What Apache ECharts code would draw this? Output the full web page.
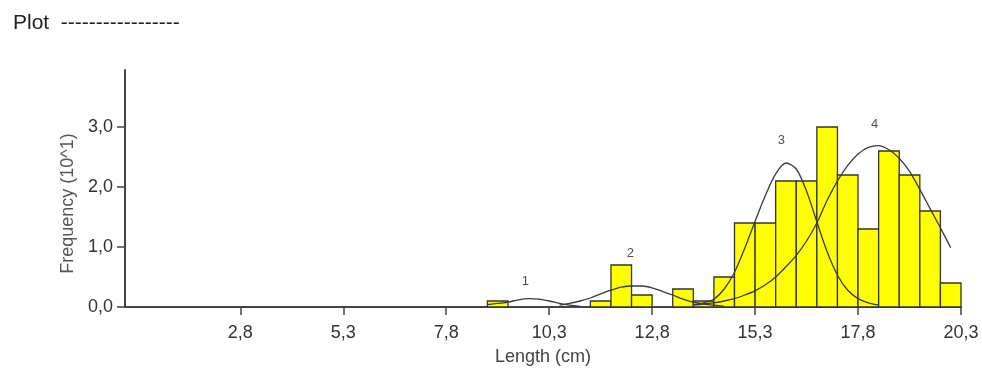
<!DOCTYPE html>
<html>
<head>
<meta charset="utf-8">
<script src="https://cdn.jsdelivr.net/npm/echarts@6/dist/echarts.min.js"></script>
<style>
html,body{margin:0;padding:0;background:#fff;}
#c{width:982px;height:372px;}
</style>
</head>
<body>
<div id="c"></div>
<script>
// Histogram bins (left edge, cm) and frequencies (x10^1)
const binStarts = [8.8, 11.3, 11.8, 12.3, 13.3, 13.8, 14.3, 14.8, 15.3, 15.8, 16.3, 16.8, 17.3, 17.8, 18.3, 18.8, 19.3, 19.8];
const binValues = [0.1, 0.1, 0.7, 0.2, 0.3, 0.1, 0.5, 1.4, 1.4, 2.1, 2.1, 3.0, 2.2, 1.3, 2.6, 2.2, 1.6, 0.4];
const binWidth = 0.5;

// Fitted component curves
const curve1X = [8.8, 9.05, 9.3, 9.55, 9.8, 10.05, 10.3, 10.55, 10.8, 11.05];
const curve1Y = [0.04, 0.06, 0.08, 0.12, 0.14, 0.13, 0.10, 0.06, 0.03, 0.01];
const curve2X = [10.55, 10.8, 11.05, 11.3, 11.55, 11.8, 12.05, 12.3, 12.55, 12.8, 13.05, 13.3, 13.55, 13.8, 14.05, 14.3, 14.55];
const curve2Y = [0.03, 0.06, 0.10, 0.15, 0.22, 0.28, 0.33, 0.35, 0.35, 0.32, 0.26, 0.20, 0.13, 0.08, 0.05, 0.03, 0.01];
const curve3X = [13.8, 14.05, 14.3, 14.55, 14.8, 15.05, 15.3, 15.55, 15.8, 16.05, 16.3, 16.55, 16.8, 17.05, 17.3, 17.55, 17.8, 18.05, 18.3];
const curve3Y = [0.04, 0.07, 0.13, 0.30, 0.58, 0.98, 1.43, 1.86, 2.22, 2.40, 2.30, 1.93, 1.42, 0.92, 0.53, 0.28, 0.14, 0.07, 0.03];
const curve4X = [13.8, 14.05, 14.3, 14.55, 14.8, 15.05, 15.3, 15.55, 15.8, 16.05, 16.3, 16.55, 16.8, 17.05, 17.3, 17.55, 17.8, 18.05, 18.3, 18.55, 18.8, 19.05, 19.3, 19.55, 19.8, 20.05];
const curve4Y = [0.03, 0.05, 0.07, 0.10, 0.14, 0.20, 0.27, 0.37, 0.50, 0.67, 0.86, 1.10, 1.40, 1.78, 2.10, 2.36, 2.55, 2.66, 2.69, 2.62, 2.48, 2.26, 1.96, 1.64, 1.32, 0.99];

// Component labels (text, x, y in data units)
const compLabels = ['1', '2', '3', '4'];
const compLabelX = [9.72, 12.27, 15.94, 18.2];
const compLabelY = [0.42, 0.90, 2.77, 3.05];

// Axis ticks
const xTicks = [2.8, 5.3, 7.8, 10.3, 12.8, 15.3, 17.8, 20.3];
const yTicks = [0, 1, 2, 3];

const zip = (xs, ys) => xs.map((x, i) => [x, ys[i]]);
const fmt = v => v.toFixed(1).replace('.', ',');

const chart = echarts.init(document.getElementById('c'), null, {renderer: 'canvas'});
const lineStyle = {color: '#3a3a3a', width: 1.3};
const curveSeries = [[curve1X, curve1Y], [curve2X, curve2Y], [curve3X, curve3Y], [curve4X, curve4Y]].map(([xs, ys]) => ({
  type: 'line', data: zip(xs, ys), smooth: 0.3, symbol: 'none', lineStyle: lineStyle, z: 5, silent: true
}));
const font = 'Liberation Sans';

chart.setOption({
  animation: false,
  title: {
    text: 'Plot  -----------------', left: 8, top: 8,
    textStyle: {fontFamily: font, fontSize: 21, fontWeight: 'normal', color: '#222'}
  },
  grid: {left: 125, right: 21, top: 70, bottom: 65, containLabel: false},
  xAxis: {
    type: 'value', min: 0, max: 20.3,
    name: 'Length (cm)', nameLocation: 'middle', nameGap: 41,
    nameTextStyle: {fontFamily: font, fontSize: 18, color: '#444'},
    axisLine: {show: true, lineStyle: {color: '#444', width: 2}},
    axisTick: {show: true, customValues: xTicks, length: 8, lineStyle: {color: '#444', width: 1.5}},
    axisLabel: {customValues: xTicks, formatter: fmt, fontFamily: font, fontSize: 18, color: '#333', margin: 17},
    splitLine: {show: false}
  },
  yAxis: {
    type: 'value', min: 0, max: 3.95,
    name: 'Frequency (10^1)', nameLocation: 'middle', nameGap: 47,
    nameTextStyle: {fontFamily: font, fontSize: 18, color: '#555', padding: [0, 30, 0, 0]},
    axisLine: {show: true, lineStyle: {color: '#444', width: 2}},
    axisTick: {show: true, customValues: yTicks, length: 8, lineStyle: {color: '#444', width: 1.5}},
    axisLabel: {customValues: yTicks, formatter: fmt, fontFamily: font, fontSize: 18, color: '#333', margin: 12},
    splitLine: {show: false}
  },
  series: [
    {
      type: 'custom',
      data: binStarts.map((s, i) => [s, binValues[i]]),
      encode: {x: 0, y: 1},
      z: 2,
      renderItem: function (params, api) {
        const x0 = api.value(0);
        const v = api.value(1);
        const p0 = api.coord([x0, v]);
        const p1 = api.coord([x0 + binWidth, 0]);
        return {
          type: 'rect',
          shape: {x: p0[0], y: p0[1], width: p1[0] - p0[0], height: p1[1] - p0[1]},
          style: {fill: '#ffff00', stroke: '#333', lineWidth: 1.3}
        };
      }
    },
    ...curveSeries,
    {
      type: 'scatter',
      data: compLabelX.map((x, i) => ({value: [x, compLabelY[i]], name: compLabels[i]})),
      symbolSize: 0,
      z: 6,
      label: {show: true, formatter: p => p.name, position: 'inside', fontFamily: font, fontSize: 13, color: '#222'},
      silent: true
    }
  ]
});
</script>
</body>
</html>
